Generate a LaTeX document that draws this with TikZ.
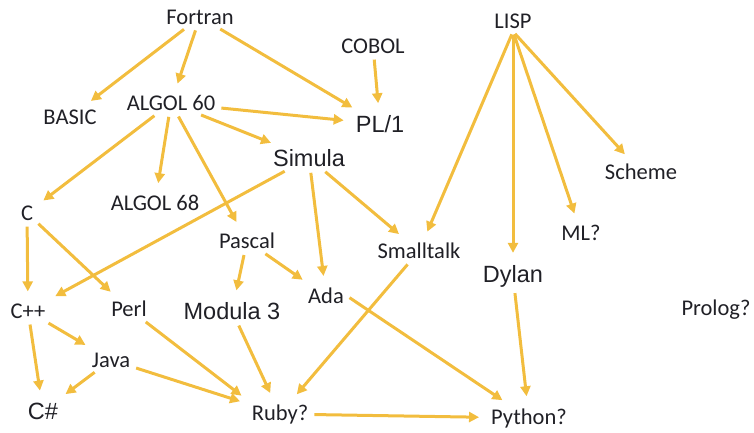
\documentclass[tikz,border=0pt]{standalone}
\usepackage{fontspec}
\setmainfont{Carlito}
\newfontfamily\bigfont{Liberation Sans}
\usetikzlibrary{arrows.meta}
\definecolor{arrowgold}{RGB}{242,189,62}
\definecolor{langtext}{RGB}{32,32,38}

\begin{document}
\begin{tikzpicture}[x=1pt, y=-1pt,
	lang/.style={text=langtext, inner sep=3pt, font=\fontsize{22.5}{24}\selectfont},
	biglang/.style={lang, font=\bigfont\fontsize{23.5}{26}\selectfont},
	link/.style={draw=arrowgold, line width=3pt, shorten >=9pt, shorten <=3pt,
		-{Triangle[length=10pt,width=10pt]}}]
		%%%%% START %%%%%
		
		\useasboundingbox (0, 0) rectangle (754, 432);
		
		\node[lang] (fortran) at (200, 17) {Fortran};
		\node[lang] (cobol) at (373, 46) {COBOL};
		\node[lang] (lisp) at (513, 21) {LISP};
		
		\node[lang] (basic) at (70, 117) {BASIC};
		\node[lang] (algolsixty) at (171, 103) {ALGOL 60};
		\node[biglang] (plone) at (380, 124) {PL/1};
		\node[biglang] (simula) at (309, 158) {Simula};
		\node[lang] (scheme) at (641, 172) {Scheme};
		
		\node[lang] (c) at (27, 213) {C};
		\node[lang] (algolsixtyeight) at (155, 203) {ALGOL 68};
		\node[lang] (pascal) at (247, 241) {Pascal};
		\node[lang] (smalltalk) at (419, 251) {Smalltalk};
		\node[lang] (ml) at (581, 233) {ML?};
		\node[biglang] (dylan) at (513, 276) {Dylan};
		
		\node[lang] (cpp) at (28, 311) {C++};
		\node[lang] (perl) at (129, 309) {Perl};
		\node[biglang] (modula) at (232, 311) {Modula 3};
		\node[lang] (ada) at (326, 296) {Ada};
		\node[lang] (prolog) at (716, 310) {Prolog?};
		
		\node[lang] (java) at (111, 360) {Java};
		\node[biglang] (csharp) at (43, 411) {C\#};
		\node[lang] (ruby) at (280, 414) {Ruby?};
		\node[lang] (python) at (529, 418) {Python?};
		
		% Fortran, COBOL, ALGOL
		\draw[link] (fortran) -- (basic);
		\draw[link] (fortran) -- (algolsixty);
		\draw[link] (fortran) -- (plone);
		\draw[link] (cobol) -- (plone);
		\draw[link] (algolsixty) -- (plone);
		\draw[link] (algolsixty) -- (simula);
		\draw[link] (algolsixty) -- (c);
		\draw[link] (algolsixty) -- (algolsixtyeight);
		\draw[link] (algolsixty) -- (pascal);
		
		% Simula
		\draw[link] (simula) -- (cpp);
		\draw[link] (simula) -- (ada);
		\draw[link] (simula) -- (smalltalk);
		
		% C, Pascal
		\draw[link] (c) -- (cpp);
		\draw[link] (c) -- (perl);
		\draw[link] (pascal) -- (modula);
		\draw[link] (pascal) -- (ada);
		
		% C++, Java
		\draw[link] (cpp) -- (java);
		\draw[link] (cpp) -- (csharp);
		\draw[link] (java) -- (csharp);
		\draw[link] (java) -- (ruby);
		
		% into Ruby and Python
		\draw[link] (perl) -- (ruby.north west);
		\draw[link] (modula) -- (ruby);
		\draw[link] (smalltalk) -- (ruby);
		\draw[link] (ada.east) -- (python);
		\draw[link] (ruby) -- (python);
		\draw[link] (dylan) -- (python);
		
		% LISP
		\draw[link] (lisp.south) -- (smalltalk);
		\draw[link] (lisp.south) -- (dylan);
		\draw[link] (lisp.south) -- (ml);
		\draw[link] (lisp.south) -- (scheme);
		
		%%%%% END %%%%%
	\end{tikzpicture}
\end{document}
